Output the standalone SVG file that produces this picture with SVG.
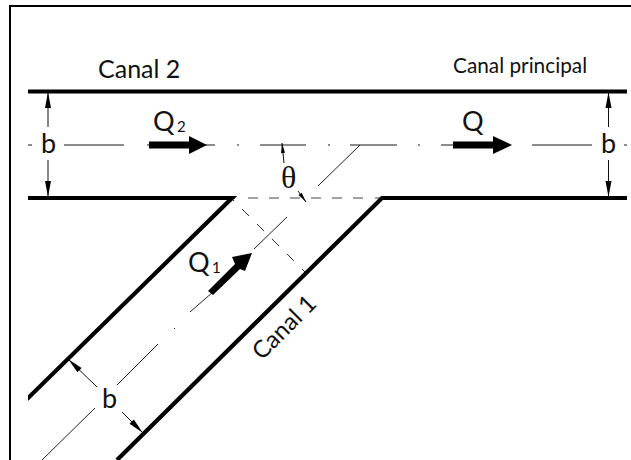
<svg xmlns="http://www.w3.org/2000/svg" width="631" height="460" viewBox="0 0 631 460">
<defs>
<marker id="ah" markerUnits="userSpaceOnUse" markerWidth="20" markerHeight="10" refX="16" refY="5" orient="auto" overflow="visible"><path d="M0 2L16 5L0 8Z" fill="#000"/></marker>
<marker id="as" markerUnits="userSpaceOnUse" markerWidth="12" markerHeight="6" refX="10" refY="3" orient="auto" overflow="visible"><path d="M0 1L10 3L0 5Z" fill="#000"/></marker>
<clipPath id="wc"><rect x="28" y="0" width="599" height="460"/></clipPath>
</defs>
<style>
.frame{fill:none;stroke:#000;stroke-width:2}
.wall{fill:none;stroke:#000;stroke-width:4.200;stroke-linecap:butt;stroke-linejoin:miter}
.axis{fill:none;stroke:#666;stroke-width:1.600}
.thin{fill:none;stroke:#222;stroke-width:1}
.dim{fill:none;stroke:#111;stroke-width:1;marker-end:url(#ah)}
.dims{fill:none;stroke:#111;stroke-width:1;marker-end:url(#as)}
.dash{fill:none;stroke:#333;stroke-width:1;stroke-dasharray:10 11.200}
.dashh{fill:none;stroke:#444;stroke-width:1.200;stroke-dasharray:10 11}
.flow{fill:#000;stroke:none}
text{font-family:Lato,"Open Sans","Liberation Sans",sans-serif;fill:#111}
.b{font-size:27px}
.Q{font-size:27px}
.sub{font-size:15px}
</style>
<rect class="frame" x="10" y="6" width="640" height="480"/>
<g id="connectors">
<path class="axis" d="M28 145h4M64 145h60M147 145h12M194 145h21M237 145h2M260 145h46M328 145h2M350 145h47M418 145h2M441 145h25M532 145h60M624 145h3"/>
<path class="thin" d="M360 145L318 186M287 217L254 249M213 292L190 312M158 344L117 385M95 408L42 460M175 328L174 329"/>
<path class="dashh" d="M248 198H372M232 198h3M375 198h6"/>
<path class="dash" d="M242 209L306 273M232 199L234 201"/>
<path class="dim" d="M48 127V92"/>
<path class="dim" d="M48 160V197"/>
<path class="dim" d="M608.500 127V92"/>
<path class="dim" d="M608.500 160V197"/>
<path class="dim" d="M97 387L68 359"/>
<path class="dim" d="M122 412L143 433"/>
<path class="dims" d="M284 163Q283 153 282 143"/>
<path class="dims" d="M298 191L306 202"/>
</g>
<g id="walls" clip-path="url(#wc)">
<path class="wall" d="M28 91.500H627"/>
<path class="wall" d="M28 198H232L24 402"/>
<path class="wall" d="M627 198H382L117 460"/>
</g>
<g id="flow-q2"><path class="flow" d="M149 141.500H189V136L207 145L189 154V148.500H149Z"/><text class="Q" x="153" y="131">Q</text><text class="sub" x="177" y="132">2</text></g>
<g id="flow-q"><path class="flow" d="M453 141.500H493V136L512 145L493 154V148.500H453Z"/><text class="Q" x="462" y="131">Q</text></g>
<g id="flow-q1"><path class="flow" d="M208 291L235 264L232 257L252 253L245 271L240 269L213 295Z"/><text class="Q" x="188" y="272">Q</text><text class="sub" x="212" y="273">1</text></g>
<g id="label-canal-2"><text x="98" y="78" font-size="25">Canal 2</text></g>
<g id="label-canal-principal"><text x="453" y="73" font-size="20.800">Canal principal</text></g>
<g id="label-canal-1"><text transform="translate(262 361) rotate(-45)" font-size="24">Canal 1</text></g>
<g id="dim-b"><text class="b" x="41" y="153">b</text><text class="b" x="601" y="153">b</text><text class="b" x="102" y="408">b</text></g>
<g id="angle"><text x="281" y="188" font-size="32" style="font-family:'Liberation Serif',serif">θ</text></g>
</svg>
